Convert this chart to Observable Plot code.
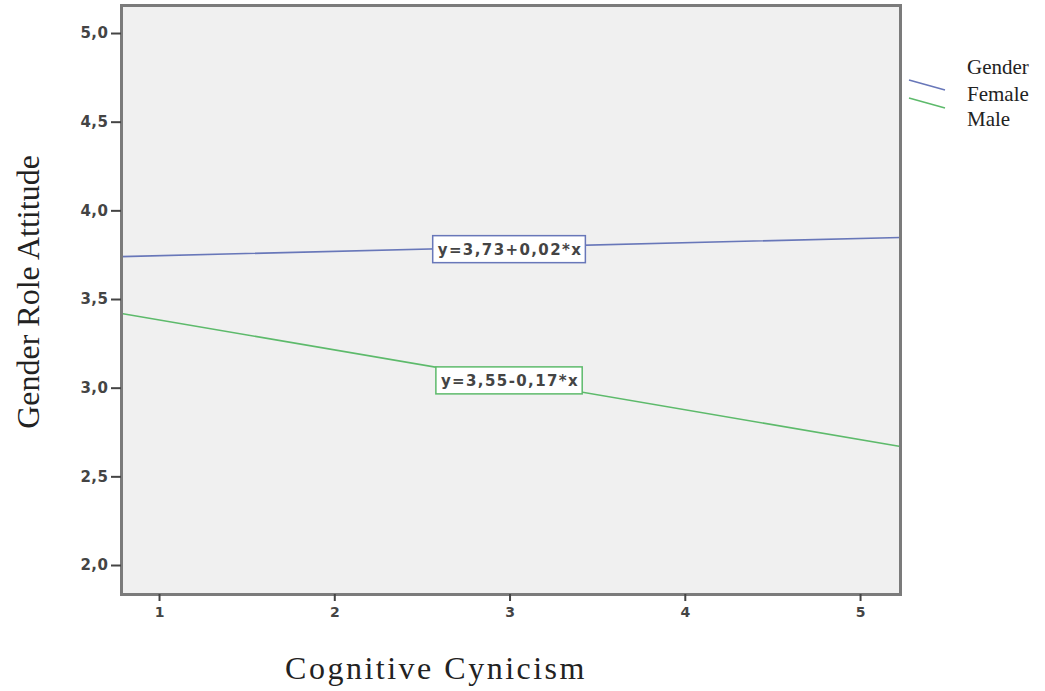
<!DOCTYPE html>
<html>
<head>
<meta charset="utf-8">
<script src="https://cdn.jsdelivr.net/npm/d3@7"></script>
<script src="https://cdn.jsdelivr.net/npm/@observablehq/plot@0.6"></script>
<style>
  body { margin: 0; background: #fff; }
  #chart { position: relative; width: 1045px; height: 691px; }
  .legend { position: absolute; left: 0; top: 0; width: 1045px; height: 691px; pointer-events: none; }
</style>
</head>
<body>
<div id="chart"></div>
<script>
// ---- data ----
const genders = ["Female", "Male"];
const genderColors = ["#6877b9", "#5dba6b"];
const lineX = [0.783, 5.228];            // fit lines span the whole frame
const femaleY = [3.742, 3.850];          // y at left / right frame edge
const maleY = [3.421, 2.671];
const equations = ["y=3,73+0,02*x", "y=3,55-0,17*x"];
const labelX = [3, 3];
const labelY = [3.78, 3.04];
const xTicks = [1, 2, 3, 4, 5];
const yTicks = [2.0, 2.5, 3.0, 3.5, 4.0, 4.5, 5.0];
const xDomain = [0.783, 5.228];
const yDomain = [1.8365, 5.158];
const xTitle = "Cognitive Cynicism";
const yTitle = "Gender Role Attitude";
const legendTitle = "Gender";

// ---- tables built from the arrays ----
const lineData = [
  ...lineX.map((x, i) => ({gender: genders[0], x, y: femaleY[i]})),
  ...lineX.map((x, i) => ({gender: genders[1], x, y: maleY[i]}))
];
const labelData = equations.map((t, i) => ({gender: genders[i], text: t, x: labelX[i], y: labelY[i]}));

const plot = Plot.plot({
  width: 1045,
  height: 691,
  marginLeft: 121,
  marginRight: 145,
  marginTop: 5,
  marginBottom: 97,
  style: {background: "white"},
  x: {domain: xDomain},
  y: {domain: yDomain},
  color: {domain: genders, range: genderColors},
  marks: [
    Plot.frame({fill: "#f0f0f0"}),
    Plot.line(lineData, {x: "x", y: "y", z: "gender", stroke: "gender", strokeWidth: 1.6}),
    Plot.text(labelData, {x: "x", y: "y", text: "text", fontFamily: "DejaVu Sans", fontSize: 15, fontWeight: "bold", fill: "#444", className: "eq"}),
    Plot.frame({stroke: "#7b7b7b", strokeWidth: 3}),
    Plot.axisY({ticks: yTicks, tickFormat: d => d.toFixed(1).replace(".", ","), tickSize: 10, tickPadding: 3,
      fontSize: 15, fontFamily: "DejaVu Sans", fontWeight: "bold", color: "#444", strokeWidth: 2, label: null, className: "yax"}),
    Plot.axisX({ticks: xTicks, tickFormat: d => String(d), tickSize: 7, tickPadding: 6,
      fontSize: 14, fontFamily: "DejaVu Sans", fontWeight: "bold", color: "#444", strokeWidth: 2, label: null}),
    Plot.text([yTitle], {frameAnchor: "left", textAnchor: "middle", rotate: -90, dx: -93, dy: -8, fontSize: 32,
      fontFamily: "Liberation Serif", fill: "#222"}),
    Plot.text([xTitle], {frameAnchor: "bottom", dx: -75, dy: 84, fontSize: 32,
      fontFamily: "Liberation Serif", fill: "#222", className: "xtitle"})
  ]
});

const chart = document.getElementById("chart");
chart.appendChild(plot);

// letter spacing tweaks
d3.select(plot).selectAll(".eq text").style("letter-spacing", "1.4px");
d3.select(plot).selectAll(".yax text").style("letter-spacing", "0.5px");
d3.select(plot).selectAll(".xtitle text").style("letter-spacing", "2.5px");

// boxes behind the equation labels
d3.select(plot).selectAll(".eq text").each(function(d, i) {
  const bb = this.getBBox();
  const r = document.createElementNS("http://www.w3.org/2000/svg", "rect");
  r.setAttribute("x", bb.x - 5);
  r.setAttribute("y", bb.y - 5);
  r.setAttribute("width", bb.width + 8);
  r.setAttribute("height", bb.height + 9);
  r.setAttribute("fill", "white");
  r.setAttribute("stroke", genderColors[i]);
  r.setAttribute("stroke-width", 1.5);
  const tr = this.getAttribute("transform");
  if (tr) r.setAttribute("transform", tr);
  this.parentNode.insertBefore(r, this);
});

// legend (SVG overlay)
const leg = d3.select(chart).append("svg").attr("class", "legend").attr("width", 1045).attr("height", 691);
const legTexts = [legendTitle, ...genders];
const legBase = [74, 101, 126];
leg.selectAll("text").data(legTexts).join("text")
  .attr("x", 967).attr("y", (d, i) => legBase[i])
  .attr("font-family", "Liberation Serif").attr("font-size", 21).attr("fill", "#222")
  .text(d => d);
const legLineY = [80, 98];
leg.selectAll("line").data(genders).join("line")
  .attr("x1", 909).attr("x2", 945)
  .attr("y1", (d, i) => legLineY[i]).attr("y2", (d, i) => legLineY[i] + 10)
  .attr("stroke", (d, i) => genderColors[i]).attr("stroke-width", 1.6);
</script>
</body>
</html>
